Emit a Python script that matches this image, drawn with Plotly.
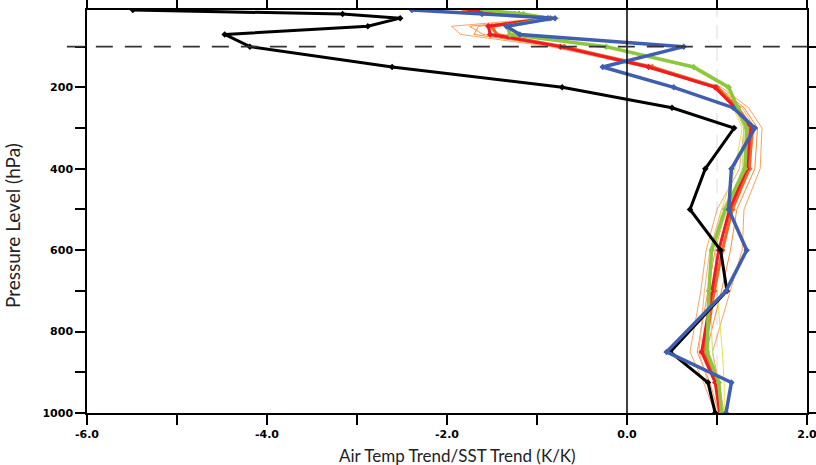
import plotly.graph_objects as go

levels = [1000, 925, 850, 700, 600, 500, 400, 300, 250, 200, 150, 100, 70, 50, 30, 20, 10]

obs_black = [0.98, 0.90, 0.48, 1.11, 1.04, 0.70, 0.87, 1.19, 0.50, -0.72, -2.61, -4.19, -4.47, -2.88, -2.52, -3.16, -5.49]
obs_blue = [1.10, 1.16, 0.44, 1.10, 1.33, 1.13, 1.16, 1.42, 1.18, 0.52, -0.27, 0.63, -1.19, -1.34, -0.80, -1.61, -2.39]
mod_red = [1.03, 0.98, 0.83, 0.94, 1.02, 1.14, 1.33, 1.37, 1.20, 0.98, 0.24, -0.74, -1.52, -1.54, -0.88, -1.20, -1.75]
mod_orange = [1.05, 1.00, 0.86, 0.97, 1.06, 1.17, 1.36, 1.39, 1.23, 1.00, 0.28, -0.70, -1.45, -1.50, -0.85, -1.25, -1.80]
mod_green = [1.05, 1.02, 0.89, 0.91, 0.94, 1.09, 1.31, 1.33, 1.23, 1.13, 0.74, -0.23, -1.30, -1.33, -0.87, -1.15, -1.60]

thin_orange_1 = [0.98, 0.85, 0.70, 0.82, 0.88, 1.00, 1.25, 1.30, 1.20, 0.95, 0.20, -0.85, -1.85, -1.95, -0.90, -1.60, -1.80]
thin_orange_2 = [1.02, 0.92, 0.78, 0.90, 0.98, 1.10, 1.30, 1.38, 1.25, 1.00, 0.25, -0.80, -1.60, -1.75, -0.85, -1.50, -1.70]
thin_orange_3 = [1.08, 1.02, 0.95, 1.15, 1.28, 1.30, 1.48, 1.50, 1.35, 1.05, 0.30, -0.70, -1.45, -1.55, -0.82, -1.40, -1.60]
thin_orange_4 = [1.05, 0.98, 0.88, 1.05, 1.15, 1.22, 1.42, 1.45, 1.30, 1.02, 0.22, -0.78, -1.70, -1.65, -0.90, -1.55, -1.75]
thin_orange_5 = [1.00, 0.90, 0.80, 0.86, 0.92, 1.05, 1.35, 1.42, 1.28, 0.98, 0.18, -0.82, -1.55, -1.50, -0.88, -1.65, -1.85]
thin_yellow = [1.08, 1.08, 1.06, 1.00, 0.98, 1.05, 1.20, 1.28, 1.18, 1.10, 0.70, -0.30, -1.25, -1.35, -0.75, -1.50, -1.70]
thin_lgreen = [1.04, 1.00, 0.95, 0.92, 0.95, 1.12, 1.28, 1.30, 1.22, 1.12, 0.72, -0.25, -1.22, -1.30, -0.80, -1.55, -1.65]

x_tickvals = [-6, -4, -2, 0, 2]
y_tickvals = [200, 400, 600, 800, 1000]

fig = go.Figure()

# faint reference line at 1.0
fig.add_shape(type="line", x0=1, x1=1, y0=0, y1=1, xref="x", yref="paper",
              line=dict(color="#d6d9f0", width=1, dash="14px,8px"), layer="below")

thin = [(thin_orange_1, "#f8a46a"), (thin_orange_2, "#f7944a"), (thin_orange_3, "#f9a35e"),
        (thin_orange_4, "#f58d3c"), (thin_orange_5, "#f9b07a"), (thin_yellow, "#e3e34a"),
        (thin_lgreen, "#c2dc7a")]
for vals, col in thin:
    fig.add_trace(go.Scatter(x=vals, y=levels, mode="lines", line=dict(color=col, width=1),
                             showlegend=False, hoverinfo="skip"))

thick = [(mod_orange, "#f26522", 3), (mod_red, "#ed1c24", 3), (mod_green, "#8dc63f", 3.5),
         (obs_black, "#000000", 3), (obs_blue, "#3f5fae", 3.5)]
for vals, col, w in thick:
    fig.add_trace(go.Scatter(x=vals, y=levels, mode="lines+markers",
                             line=dict(color=col, width=w),
                             marker=dict(color=col, size=5, symbol="diamond"),
                             showlegend=False))

# zero line
fig.add_shape(type="line", x0=0, x1=0, y0=0, y1=1, xref="x", yref="paper",
              line=dict(color="black", width=1.5))
# tropopause dashed line at 100 hPa
fig.add_shape(type="line", x0=-0.028, x1=1, y0=100, y1=100, xref="paper", yref="y",
              line=dict(color="#333333", width=1.8, dash="17px,12px"))

tickfont = dict(family="DejaVu Sans", size=11, color="black", weight="bold")
fig.update_xaxes(range=[-6, 2], tickvals=x_tickvals, ticktext=[f"{v:.1f}" for v in x_tickvals],
                 ticks="outside", ticklen=10, tickwidth=1.5, tickcolor="black",
                 showline=True, linecolor="black", linewidth=1.5, mirror="ticks",
                 showgrid=False, zeroline=False, tickfont=tickfont, automargin=False,
                 ticklabeloverflow="allow",
                 minor=dict(dtick=1, tick0=0, ticks="outside", ticklen=10, tickwidth=1.5, tickcolor="black"))
fig.update_yaxes(range=[1000, 10], tickvals=y_tickvals, ticktext=[str(v) for v in y_tickvals],
                 ticks="outside", ticklen=10, tickwidth=1.5, tickcolor="black",
                 showline=True, linecolor="black", linewidth=1.5, mirror="ticks",
                 showgrid=False, zeroline=False, tickfont=tickfont, automargin=False,
                 ticklabeloverflow="allow",
                 minor=dict(tickvals=[100, 300, 500, 700, 900], ticks="outside", ticklen=10,
                            tickwidth=1.5, tickcolor="black"))

fig.add_annotation(text="Air Temp Trend/SST Trend (K/K)", xref="paper", yref="paper",
                   x=(458 - 87) / 720, y=-(455 - 413) / 403, xanchor="center", yanchor="middle",
                   showarrow=False, font=dict(family="Lato", size=17, color="#222222"))
fig.add_annotation(text="Pressure Level (hPa)", xref="paper", yref="paper",
                   x=-(87 - 13) / 720, y=(413 - 226) / 403, xanchor="center", yanchor="middle",
                   textangle=-90, showarrow=False,
                   font=dict(family="Lato", size=19, color="#222222"))

fig.update_layout(width=816, height=465, margin=dict(l=87, r=9, t=10, b=52),
                  paper_bgcolor="white", plot_bgcolor="white", showlegend=False)

fig.write_html("out.html")
